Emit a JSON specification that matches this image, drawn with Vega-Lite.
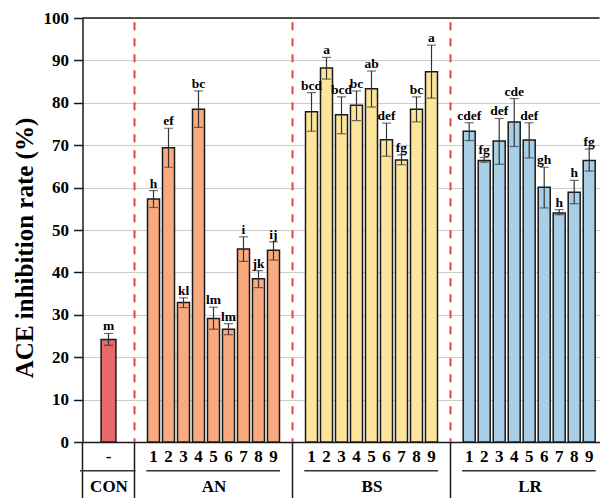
{
  "$schema": "https://vega.github.io/schema/vega-lite/v6.json",
  "background": "white",
  "autosize": {"type": "pad"},
  "padding": {"left": 12.5, "top": 9, "right": 0, "bottom": 0},
  "config": {"view": {"stroke": null}},
  "spacing": 0,
  "bounds": "flush",
  "datasets": {
    "d": [
      {"group": "CON", "sample": "-", "mean": 24.2, "lo": 22.8, "hi": 25.6, "sig": "m"},
      {"group": "AN", "sample": "1", "mean": 57.3, "lo": 55.3, "hi": 59.3, "sig": "h"},
      {"group": "AN", "sample": "2", "mean": 69.4, "lo": 64.8, "hi": 74.0, "sig": "ef"},
      {"group": "AN", "sample": "3", "mean": 32.9, "lo": 31.7, "hi": 34.0, "sig": "kl"},
      {"group": "AN", "sample": "4", "mean": 78.5, "lo": 74.2, "hi": 82.8, "sig": "bc"},
      {"group": "AN", "sample": "5", "mean": 29.1, "lo": 26.6, "hi": 31.8, "sig": "lm"},
      {"group": "AN", "sample": "6", "mean": 26.6, "lo": 25.3, "hi": 27.9, "sig": "lm"},
      {"group": "AN", "sample": "7", "mean": 45.5, "lo": 42.6, "hi": 48.4, "sig": "i"},
      {"group": "AN", "sample": "8", "mean": 38.5, "lo": 36.4, "hi": 40.4, "sig": "jk"},
      {"group": "AN", "sample": "9", "mean": 45.2, "lo": 42.9, "hi": 47.2, "sig": "ij"},
      {"group": "BS", "sample": "1", "mean": 77.9, "lo": 73.3, "hi": 82.4, "sig": "bcd"},
      {"group": "BS", "sample": "2", "mean": 88.2, "lo": 85.6, "hi": 90.7, "sig": "a"},
      {"group": "BS", "sample": "3", "mean": 77.2, "lo": 72.7, "hi": 81.4, "sig": "bcd"},
      {"group": "BS", "sample": "4", "mean": 79.4, "lo": 75.8, "hi": 82.8, "sig": "bc"},
      {"group": "BS", "sample": "5", "mean": 83.3, "lo": 79.0, "hi": 87.5, "sig": "ab"},
      {"group": "BS", "sample": "6", "mean": 71.3, "lo": 67.4, "hi": 75.2, "sig": "def"},
      {"group": "BS", "sample": "7", "mean": 66.5, "lo": 65.4, "hi": 67.7, "sig": "fg"},
      {"group": "BS", "sample": "8", "mean": 78.5, "lo": 75.5, "hi": 81.4, "sig": "bc"},
      {"group": "BS", "sample": "9", "mean": 87.3, "lo": 81.1, "hi": 93.6, "sig": "a"},
      {"group": "LR", "sample": "1", "mean": 73.3, "lo": 71.1, "hi": 75.3, "sig": "cdef"},
      {"group": "LR", "sample": "2", "mean": 66.4, "lo": 66.0, "hi": 67.1, "sig": "fg"},
      {"group": "LR", "sample": "3", "mean": 71.0, "lo": 65.5, "hi": 76.3, "sig": "def"},
      {"group": "LR", "sample": "4", "mean": 75.5, "lo": 69.7, "hi": 81.0, "sig": "cde"},
      {"group": "LR", "sample": "5", "mean": 71.2, "lo": 67.0, "hi": 75.3, "sig": "def"},
      {"group": "LR", "sample": "6", "mean": 60.1, "lo": 55.2, "hi": 64.8, "sig": "gh"},
      {"group": "LR", "sample": "7", "mean": 54.0, "lo": 53.6, "hi": 54.8, "sig": "h"},
      {"group": "LR", "sample": "8", "mean": 58.9, "lo": 56.2, "hi": 61.7, "sig": "h"},
      {"group": "LR", "sample": "9", "mean": 66.4, "lo": 63.9, "hi": 69.1, "sig": "fg"}
    ]
  },
  "hconcat": [
    {
      "width": 52, "height": 424,
      "layer": [
        {"data": {"name": "d"}, "transform": [{"filter": "datum.group === 'CON'"}],
         "mark": {"type": "bar", "fill": "#E46A6B", "stroke": "#1a1a1a", "strokeWidth": 1.5},
         "encoding": {
           "x": {"field": "sample", "type": "ordinal", "sort": null, "scale": {"paddingInner": 0.2, "paddingOuter": 1.333},
                 "axis": {"orient": "bottom", "domain": true, "domainColor": "#1a1a1a", "domainWidth": 1.5, "ticks": false, "grid": false, "labelAngle": 0, "labelFont": "Liberation Serif", "labelFontWeight": "bold", "labelFontSize": 17, "labelColor": "#000", "labelPadding": 14, "labelBaseline": "middle", "title": "CON", "titleFont": "Liberation Serif", "titleFontWeight": "bold", "titleFontSize": 17, "titleColor": "#000", "titleBaseline": "middle", "titleY": 44}},
           "y": {"field": "mean", "type": "quantitative", "scale": {"domain": [0, 100], "nice": false},
                 "axis": {"values": [0,5,10,15,20,25,30,35,40,45,50,55,60,65,70,75,80,85,90,95,100], "labelExpr": "datum.value % 10 === 0 ? datum.label : ''", "labelOverlap": false, "labelFont": "Liberation Serif", "labelFontWeight": "bold", "labelFontSize": 17, "labelColor": "#000", "labelPadding": 5,
                          "tickSize": {"condition": {"test": "datum.value % 10 === 0", "value": 9}, "value": 5}, "tickColor": "#1a1a1a", "tickWidth": 1.5,
                          "domainColor": "#1a1a1a", "domainWidth": 1.5, "grid": true,
                          "gridColor": {"condition": {"test": "datum.value % 10 === 0", "value": "#cccccc"}, "value": "#dddddd"},
                          "gridDash": {"condition": {"test": "datum.value % 10 === 0", "value": []}, "value": [2, 2]},
                          "gridWidth": 1,
                          "title": "ACE inhibition rate (%)", "titleFont": "Liberation Serif", "titleFontWeight": "bold", "titleFontSize": 25, "titleColor": "#000", "titleX": -58, "titleY": 229.5, "titleBaseline": "middle", "titleAngle": -90, "titleAlign": "center"}}
         }},
        {"data": {"values": [{}]}, "mark": {"type": "rule", "color": "#1a1a1a", "strokeWidth": 1.5},
         "encoding": {"y": {"datum": 100, "type": "quantitative"}}},
        {"data": {"values": [{}]}, "mark": {"type": "rule", "color": "#1a1a1a", "strokeWidth": 1.5, "clip": false},
         "encoding": {"x": {"value": 0}, "y": {"datum": 0, "type": "quantitative"}, "y2": {"datum": -13.2}}},
        {"data": {"name": "d"}, "transform": [{"filter": "datum.group === 'CON'"}],
         "mark": {"type": "rule", "color": "#333333", "strokeWidth": 1.2},
         "encoding": {"x": {"field": "sample", "type": "ordinal", "sort": null}, "y": {"field": "lo", "type": "quantitative"}, "y2": {"field": "hi"}}},
        {"data": {"name": "d"}, "transform": [{"filter": "datum.group === 'CON'"}],
         "mark": {"type": "tick", "color": "#333333", "thickness": 1.2, "size": 9},
         "encoding": {"x": {"field": "sample", "type": "ordinal", "sort": null}, "y": {"field": "lo", "type": "quantitative"}}},
        {"data": {"name": "d"}, "transform": [{"filter": "datum.group === 'CON'"}],
         "mark": {"type": "tick", "color": "#333333", "thickness": 1.2, "size": 9},
         "encoding": {"x": {"field": "sample", "type": "ordinal", "sort": null}, "y": {"field": "hi", "type": "quantitative"}}},
        {"data": {"name": "d"}, "transform": [{"filter": "datum.group === 'CON'"}],
         "mark": {"type": "text", "font": "Liberation Serif", "fontWeight": "bold", "fontSize": 13.5, "color": "#000", "baseline": "alphabetic", "dy": -3},
         "encoding": {"x": {"field": "sample", "type": "ordinal", "sort": null}, "y": {"field": "hi", "type": "quantitative"}, "text": {"field": "sig"}}},
        {"data": {"values": [{}]}, "mark": {"type": "rule", "color": "#333333", "strokeWidth": 1.5, "clip": false},
         "encoding": {"x": {"datum": "-", "type": "ordinal", "bandPosition": -1.417}, "x2": {"datum": "-", "bandPosition": 2.31}, "y": {"datum": -6.8, "type": "quantitative"}}}
      ]
    },
    {
      "width": 158, "height": 424,
      "layer": [
        {"data": {"name": "d"}, "transform": [{"filter": "datum.group === 'AN'"}],
         "mark": {"type": "bar", "fill": "#FAAA7F", "stroke": "#1a1a1a", "strokeWidth": 1.5},
         "encoding": {
           "x": {"field": "sample", "type": "ordinal", "sort": null, "scale": {"paddingInner": 0.2, "paddingOuter": 0.867},
                 "axis": {"orient": "bottom", "domain": true, "domainColor": "#1a1a1a", "domainWidth": 1.5, "ticks": false, "grid": false, "labelAngle": 0, "labelFont": "Liberation Serif", "labelFontWeight": "bold", "labelFontSize": 17, "labelColor": "#000", "labelPadding": 14, "labelBaseline": "middle", "title": "AN", "titleFont": "Liberation Serif", "titleFontWeight": "bold", "titleFontSize": 17, "titleColor": "#000", "titleBaseline": "middle", "titleY": 44}},
           "y": {"field": "mean", "type": "quantitative", "scale": {"domain": [0, 100], "nice": false},
                 "axis": {"values": [0,5,10,15,20,25,30,35,40,45,50,55,60,65,70,75,80,85,90,95,100], "labels": false, "ticks": false, "domain": false, "title": null, "grid": true,
                          "gridColor": {"condition": {"test": "datum.value % 10 === 0", "value": "#cccccc"}, "value": "#dddddd"},
                          "gridDash": {"condition": {"test": "datum.value % 10 === 0", "value": []}, "value": [2, 2]},
                          "gridWidth": 1}}
         }},
        {"data": {"values": [{}]}, "mark": {"type": "rule", "color": "#1a1a1a", "strokeWidth": 1.5},
         "encoding": {"y": {"datum": 100, "type": "quantitative"}}},
        {"data": {"values": [{}]}, "mark": {"type": "rule", "color": "#1a1a1a", "strokeWidth": 1.5, "clip": false},
         "encoding": {"x": {"value": 0}, "y": {"datum": 0, "type": "quantitative"}, "y2": {"datum": -13.2}}},
        {"data": {"values": [{}]}, "mark": {"type": "rule", "color": "#E8413F", "strokeWidth": 2, "strokeDash": [8, 8]},
         "encoding": {"x": {"value": 0}, "y": {"datum": 99, "type": "quantitative"}, "y2": {"datum": 0}}},
        {"data": {"name": "d"}, "transform": [{"filter": "datum.group === 'AN'"}],
         "mark": {"type": "rule", "color": "#333333", "strokeWidth": 1.2},
         "encoding": {"x": {"field": "sample", "type": "ordinal", "sort": null}, "y": {"field": "lo", "type": "quantitative"}, "y2": {"field": "hi"}}},
        {"data": {"name": "d"}, "transform": [{"filter": "datum.group === 'AN'"}],
         "mark": {"type": "tick", "color": "#333333", "thickness": 1.2, "size": 9},
         "encoding": {"x": {"field": "sample", "type": "ordinal", "sort": null}, "y": {"field": "lo", "type": "quantitative"}}},
        {"data": {"name": "d"}, "transform": [{"filter": "datum.group === 'AN'"}],
         "mark": {"type": "tick", "color": "#333333", "thickness": 1.2, "size": 9},
         "encoding": {"x": {"field": "sample", "type": "ordinal", "sort": null}, "y": {"field": "hi", "type": "quantitative"}}},
        {"data": {"name": "d"}, "transform": [{"filter": "datum.group === 'AN'"}],
         "mark": {"type": "text", "font": "Liberation Serif", "fontWeight": "bold", "fontSize": 13.5, "color": "#000", "baseline": "alphabetic", "dy": -3},
         "encoding": {"x": {"field": "sample", "type": "ordinal", "sort": null}, "y": {"field": "hi", "type": "quantitative"}, "text": {"field": "sig"}}},
        {"data": {"values": [{}]}, "mark": {"type": "rule", "color": "#333333", "strokeWidth": 1.5, "clip": false},
         "encoding": {"x": {"datum": "1", "type": "ordinal", "bandPosition": -0.1}, "x2": {"datum": "9", "bandPosition": 1.05}, "y": {"datum": -6.8, "type": "quantitative"}}}
      ]
    },
    {
      "width": 158, "height": 424,
      "layer": [
        {"data": {"name": "d"}, "transform": [{"filter": "datum.group === 'BS'"}],
         "mark": {"type": "bar", "fill": "#FDE59B", "stroke": "#1a1a1a", "strokeWidth": 1.5},
         "encoding": {
           "x": {"field": "sample", "type": "ordinal", "sort": null, "scale": {"paddingInner": 0.2, "paddingOuter": 0.867},
                 "axis": {"orient": "bottom", "domain": true, "domainColor": "#1a1a1a", "domainWidth": 1.5, "ticks": false, "grid": false, "labelAngle": 0, "labelFont": "Liberation Serif", "labelFontWeight": "bold", "labelFontSize": 17, "labelColor": "#000", "labelPadding": 14, "labelBaseline": "middle", "title": "BS", "titleFont": "Liberation Serif", "titleFontWeight": "bold", "titleFontSize": 17, "titleColor": "#000", "titleBaseline": "middle", "titleY": 44}},
           "y": {"field": "mean", "type": "quantitative", "scale": {"domain": [0, 100], "nice": false},
                 "axis": {"values": [0,5,10,15,20,25,30,35,40,45,50,55,60,65,70,75,80,85,90,95,100], "labels": false, "ticks": false, "domain": false, "title": null, "grid": true,
                          "gridColor": {"condition": {"test": "datum.value % 10 === 0", "value": "#cccccc"}, "value": "#dddddd"},
                          "gridDash": {"condition": {"test": "datum.value % 10 === 0", "value": []}, "value": [2, 2]},
                          "gridWidth": 1}}
         }},
        {"data": {"values": [{}]}, "mark": {"type": "rule", "color": "#1a1a1a", "strokeWidth": 1.5},
         "encoding": {"y": {"datum": 100, "type": "quantitative"}}},
        {"data": {"values": [{}]}, "mark": {"type": "rule", "color": "#1a1a1a", "strokeWidth": 1.5, "clip": false},
         "encoding": {"x": {"value": 0}, "y": {"datum": 0, "type": "quantitative"}, "y2": {"datum": -13.2}}},
        {"data": {"values": [{}]}, "mark": {"type": "rule", "color": "#E8413F", "strokeWidth": 2, "strokeDash": [8, 8]},
         "encoding": {"x": {"value": 0}, "y": {"datum": 99, "type": "quantitative"}, "y2": {"datum": 0}}},
        {"data": {"name": "d"}, "transform": [{"filter": "datum.group === 'BS'"}],
         "mark": {"type": "rule", "color": "#333333", "strokeWidth": 1.2},
         "encoding": {"x": {"field": "sample", "type": "ordinal", "sort": null}, "y": {"field": "lo", "type": "quantitative"}, "y2": {"field": "hi"}}},
        {"data": {"name": "d"}, "transform": [{"filter": "datum.group === 'BS'"}],
         "mark": {"type": "tick", "color": "#333333", "thickness": 1.2, "size": 9},
         "encoding": {"x": {"field": "sample", "type": "ordinal", "sort": null}, "y": {"field": "lo", "type": "quantitative"}}},
        {"data": {"name": "d"}, "transform": [{"filter": "datum.group === 'BS'"}],
         "mark": {"type": "tick", "color": "#333333", "thickness": 1.2, "size": 9},
         "encoding": {"x": {"field": "sample", "type": "ordinal", "sort": null}, "y": {"field": "hi", "type": "quantitative"}}},
        {"data": {"name": "d"}, "transform": [{"filter": "datum.group === 'BS'"}],
         "mark": {"type": "text", "font": "Liberation Serif", "fontWeight": "bold", "fontSize": 13.5, "color": "#000", "baseline": "alphabetic", "dy": -3},
         "encoding": {"x": {"field": "sample", "type": "ordinal", "sort": null}, "y": {"field": "hi", "type": "quantitative"}, "text": {"field": "sig"}}},
        {"data": {"values": [{}]}, "mark": {"type": "rule", "color": "#333333", "strokeWidth": 1.5, "clip": false},
         "encoding": {"x": {"datum": "1", "type": "ordinal", "bandPosition": -0.1}, "x2": {"datum": "9", "bandPosition": 1.05}, "y": {"datum": -6.8, "type": "quantitative"}}}
      ]
    },
    {
      "width": 149, "height": 424,
      "layer": [
        {"data": {"name": "d"}, "transform": [{"filter": "datum.group === 'LR'"}],
         "mark": {"type": "bar", "fill": "#A8CFE6", "stroke": "#1a1a1a", "strokeWidth": 1.5},
         "encoding": {
           "x": {"field": "sample", "type": "ordinal", "sort": null, "scale": {"paddingInner": 0.2, "paddingOuter": 0.567, "align": 0.747},
                 "axis": {"orient": "bottom", "domain": true, "domainColor": "#1a1a1a", "domainWidth": 1.5, "ticks": false, "grid": false, "labelAngle": 0, "labelFont": "Liberation Serif", "labelFontWeight": "bold", "labelFontSize": 17, "labelColor": "#000", "labelPadding": 14, "labelBaseline": "middle", "title": "LR", "titleFont": "Liberation Serif", "titleFontWeight": "bold", "titleFontSize": 17, "titleColor": "#000", "titleBaseline": "middle", "titleY": 44, "titleX": 79}},
           "y": {"field": "mean", "type": "quantitative", "scale": {"domain": [0, 100], "nice": false},
                 "axis": {"values": [0,5,10,15,20,25,30,35,40,45,50,55,60,65,70,75,80,85,90,95,100], "labels": false, "ticks": false, "domain": false, "title": null, "grid": true,
                          "gridColor": {"condition": {"test": "datum.value % 10 === 0", "value": "#cccccc"}, "value": "#dddddd"},
                          "gridDash": {"condition": {"test": "datum.value % 10 === 0", "value": []}, "value": [2, 2]},
                          "gridWidth": 1}}
         }},
        {"data": {"values": [{}]}, "mark": {"type": "rule", "color": "#1a1a1a", "strokeWidth": 1.5},
         "encoding": {"y": {"datum": 100, "type": "quantitative"}}},
        {"data": {"values": [{}]}, "mark": {"type": "rule", "color": "#1a1a1a", "strokeWidth": 1.5, "clip": false},
         "encoding": {"x": {"value": 0}, "y": {"datum": 0, "type": "quantitative"}, "y2": {"datum": -13.2}}},
        {"data": {"values": [{}]}, "mark": {"type": "rule", "color": "#E8413F", "strokeWidth": 2, "strokeDash": [8, 8]},
         "encoding": {"x": {"value": 0}, "y": {"datum": 99, "type": "quantitative"}, "y2": {"datum": 0}}},
        {"data": {"name": "d"}, "transform": [{"filter": "datum.group === 'LR'"}],
         "mark": {"type": "rule", "color": "#333333", "strokeWidth": 1.2},
         "encoding": {"x": {"field": "sample", "type": "ordinal", "sort": null}, "y": {"field": "lo", "type": "quantitative"}, "y2": {"field": "hi"}}},
        {"data": {"name": "d"}, "transform": [{"filter": "datum.group === 'LR'"}],
         "mark": {"type": "tick", "color": "#333333", "thickness": 1.2, "size": 9},
         "encoding": {"x": {"field": "sample", "type": "ordinal", "sort": null}, "y": {"field": "lo", "type": "quantitative"}}},
        {"data": {"name": "d"}, "transform": [{"filter": "datum.group === 'LR'"}],
         "mark": {"type": "tick", "color": "#333333", "thickness": 1.2, "size": 9},
         "encoding": {"x": {"field": "sample", "type": "ordinal", "sort": null}, "y": {"field": "hi", "type": "quantitative"}}},
        {"data": {"name": "d"}, "transform": [{"filter": "datum.group === 'LR'"}],
         "mark": {"type": "text", "font": "Liberation Serif", "fontWeight": "bold", "fontSize": 13.5, "color": "#000", "baseline": "alphabetic", "dy": -3},
         "encoding": {"x": {"field": "sample", "type": "ordinal", "sort": null}, "y": {"field": "hi", "type": "quantitative"}, "text": {"field": "sig"}}},
        {"data": {"values": [{}]}, "mark": {"type": "rule", "color": "#333333", "strokeWidth": 1.5, "clip": false},
         "encoding": {"x": {"datum": "1", "type": "ordinal", "bandPosition": -0.1}, "x2": {"datum": "9", "bandPosition": 1.05}, "y": {"datum": -6.8, "type": "quantitative"}}}
      ]
    }
  ]
}
